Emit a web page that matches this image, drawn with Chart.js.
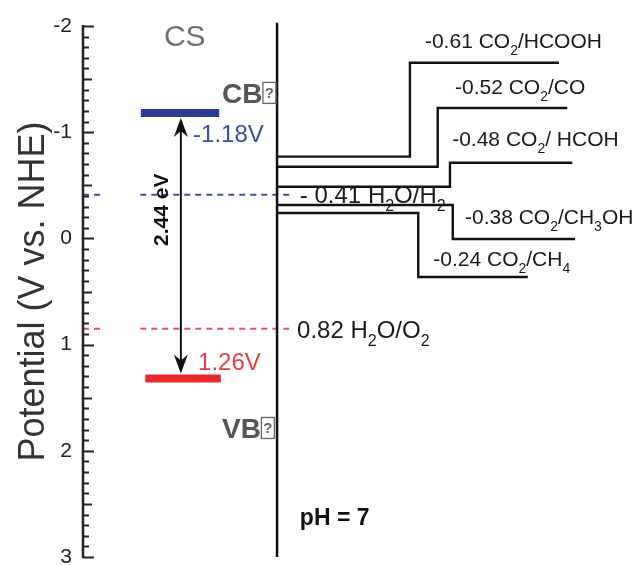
<!DOCTYPE html>
<html>
<head>
<meta charset="utf-8">
<script src="https://cdn.jsdelivr.net/npm/chart.js@4.4.0/dist/chart.umd.min.js"></script>
<style>
  html, body { margin: 0; padding: 0; background: #fff; }
</style>
</head>
<body>
<canvas id="bandChart" width="639" height="565"></canvas>
<script>
// ---- data (potential in V vs. NHE) ----
const potentialRange = [-2, 3];
const bandNames = ['CB', 'VB'];
const bandEdges = [-1.18, 1.32];
const bandLabels = ['-1.18V', '1.26V'];
const gapLabel = '2.44 eV';
const waterLevels = [-0.41, 0.85];
const waterLabels = ['- 0.41 H_2O/H_2', '0.82 H_2O/O_2'];
const coupleLabels = ['-0.61 CO_2/HCOOH', '-0.52 CO_2/CO', '-0.48 CO_2/ HCOH', '-0.38 CO_2/CH_3OH', '-0.24 CO_2/CH_4'];
const coupleStart = [-0.77, -0.675, -0.487, -0.315, -0.239];
const coupleLevel = [-1.654, -1.228, -0.713, 0.006, 0.363];

// ---- horizontal layout (x axis is 0..100, hidden) ----
const FONT = "'Liberation Sans', Arial, sans-serif";
const lay = {
    bandX: [[10.4, 24.5], [11.2, 24.8]],
    arrowX: 17.6,
    dividerX: 34.9,
    dashX: [[0, 3.2], [10.3, 37.6]],
    stepX: [58.8, 63.8, 66.0, 66.5, 60.3],
    endX: [85.6, 87.1, 88.0, 88.5, 80.0],
    coupleTextX: [61.5, 66.9, 66.4, 68.7, 63.0],
    coupleTextY: [-1.86, -1.43, -0.945, -0.204, 0.185],
    waterTextX: [39.0, 38.5],
    waterTextY: [-0.41, 0.86],
    bandTextX: [19.8, 20.7],
    bandTextY: [-0.99, 1.16],
    nameTextX: 25.0,
    nameTextY: [-1.37, 1.785]
};

const bandColors = ['#2b3d94', '#e8292b'];
const waterColors = ['#42528f', '#e2506a'];
const bandTextColors = ['#3d4f99', '#e0404a'];

const datasets = [];

// vertical divider
datasets.push({
    data: [{ x: lay.dividerX, y: -2.03 }, { x: lay.dividerX, y: potentialRange[1] }],
    borderColor: '#111', borderWidth: 2.5
});

// dashed water redox levels
waterLevels.forEach((v, i) => {
    lay.dashX.forEach(seg => {
        datasets.push({
            data: [{ x: seg[0], y: v }, { x: seg[1], y: v }],
            borderColor: waterColors[i], borderWidth: 2, borderDash: [6, 5]
        });
    });
});

// CO2 reduction couples (step lines)
coupleLabels.forEach((lbl, i) => {
    datasets.push({
        data: [
            { x: lay.dividerX, y: coupleStart[i] },
            { x: lay.stepX[i], y: coupleStart[i] },
            { x: lay.stepX[i], y: coupleLevel[i] },
            { x: lay.endX[i], y: coupleLevel[i] }
        ],
        borderColor: '#111', borderWidth: 2.4
    });
});

// band edges
bandEdges.forEach((v, i) => {
    datasets.push({
        data: [{ x: lay.bandX[i][0], y: v }, { x: lay.bandX[i][1], y: v }],
        borderColor: bandColors[i], borderWidth: 8, borderCapStyle: 'butt'
    });
});

/**
 * Draw text with "_x" marking a one-character subscript
 */
function drawRich(ctx, str, x, yMid, size, color, weight) {
    const base = yMid + size * 0.36;
    let cx = x;
    ctx.fillStyle = color;
    ctx.textAlign = 'left';
    ctx.textBaseline = 'alphabetic';
    for (let i = 0; i < str.length; i++) {
        if (str[i] === '_' && i + 1 < str.length) {
            const s = Math.round(size * 0.65);
            ctx.font = `${weight} ${s}px ${FONT}`;
            ctx.fillText(str[i + 1], cx, base + size * 0.33);
            cx += ctx.measureText(str[i + 1]).width;
            i++;
        } else {
            ctx.font = `${weight} ${size}px ${FONT}`;
            ctx.fillText(str[i], cx, base);
            cx += ctx.measureText(str[i]).width;
        }
    }
    return cx;
}

function arrowHead(ctx, x, tip, dir) {
    ctx.beginPath();
    ctx.moveTo(x, tip);
    ctx.lineTo(x - 7, tip + dir * 19);
    ctx.lineTo(x, tip + dir * 13);
    ctx.lineTo(x + 7, tip + dir * 19);
    ctx.closePath();
    ctx.fill();
}

const decorPlugin = {
    id: 'decor',
    afterDatasetsDraw(chart) {
        const ctx = chart.ctx;
        const xs = chart.scales.x;
        const ys = chart.scales.y;
        const px = v => xs.getPixelForValue(v);
        const py = v => ys.getPixelForValue(v);
        ctx.save();

        // axis line with inward ticks
        const ax = chart.chartArea.left;
        ctx.strokeStyle = '#222';
        ctx.lineWidth = 2.5;
        ctx.beginPath();
        ctx.moveTo(ax, py(potentialRange[0]) - 1);
        ctx.lineTo(ax, py(potentialRange[1]) + 1);
        ctx.stroke();
        ctx.lineWidth = 2;
        for (let i = potentialRange[0] * 10; i <= potentialRange[1] * 10; i++) {
            const len = i % 10 === 0 ? 11 : (i % 5 === 0 ? 9 : 6);
            const y = Math.round(py(i / 10)) + 0.5;
            ctx.beginPath();
            ctx.moveTo(ax, y);
            ctx.lineTo(ax + len, y);
            ctx.stroke();
        }

        // band gap arrow
        const xa = px(lay.arrowX);
        const yTop = py(bandEdges[0]) + 5;
        const yBot = py(bandEdges[1]) - 5;
        ctx.strokeStyle = '#111';
        ctx.fillStyle = '#111';
        ctx.lineWidth = 2;
        ctx.beginPath();
        ctx.moveTo(xa, yTop + 8);
        ctx.lineTo(xa, yBot - 8);
        ctx.stroke();
        arrowHead(ctx, xa, yTop, 1);
        arrowHead(ctx, xa, yBot, -1);

        // gap label, rotated
        ctx.save();
        ctx.translate(px(lay.arrowX) - 19, py(-0.27));
        ctx.rotate(-Math.PI / 2);
        ctx.font = `bold 21px ${FONT}`;
        ctx.fillStyle = '#111';
        ctx.textAlign = 'center';
        ctx.textBaseline = 'middle';
        ctx.fillText(gapLabel, 0, 0);
        ctx.restore();

        // CS title
        ctx.font = `30px ${FONT}`;
        ctx.fillStyle = '#6e6e6e';
        ctx.textAlign = 'center';
        ctx.textBaseline = 'middle';
        ctx.fillText('CS', px(18.3), py(-1.89));

        // CB / VB labels with a missing-glyph box
        bandNames.forEach((name, i) => {
            const end = drawRich(ctx, name, px(lay.nameTextX), py(lay.nameTextY[i]), 28, '#555', 'bold');
            const yc = py(lay.nameTextY[i]);
            ctx.strokeStyle = '#666';
            ctx.lineWidth = 1.3;
            ctx.strokeRect(end + 0.5, yc - 10.5, 13, 21);
            ctx.font = `bold 15px ${FONT}`;
            ctx.fillStyle = '#666';
            ctx.textAlign = 'center';
            ctx.textBaseline = 'middle';
            ctx.fillText('?', end + 7, yc + 1);
        });

        // band edge values
        bandLabels.forEach((lbl, i) => {
            drawRich(ctx, lbl, px(lay.bandTextX[i]), py(lay.bandTextY[i]), 24, bandTextColors[i], 'normal');
        });

        // water redox labels
        waterLabels.forEach((lbl, i) => {
            drawRich(ctx, lbl, px(lay.waterTextX[i]), py(lay.waterTextY[i]), 24, '#1a1a1a', 'normal');
        });

        // CO2 couple labels
        coupleLabels.forEach((lbl, i) => {
            drawRich(ctx, lbl, px(lay.coupleTextX[i]), py(lay.coupleTextY[i]), 21, '#1a1a1a', 'normal');
        });

        // pH note
        drawRich(ctx, 'pH = 7', px(39.0), py(2.62), 23, '#111', 'bold');

        ctx.restore();
    }
};

new Chart(document.getElementById('bandChart'), {
    type: 'scatter',
    data: { datasets: datasets.map(d => Object.assign({ showLine: true, pointRadius: 0, clip: false, fill: false }, d)) },
    options: {
        responsive: false,
        animation: false,
        devicePixelRatio: 1,
        layout: { padding: { top: 26, bottom: 8, left: 0, right: 0 } },
        plugins: {
            legend: { display: false },
            tooltip: { enabled: false }
        },
        scales: {
            x: { type: 'linear', min: 0, max: 100, display: false },
            y: {
                type: 'linear',
                min: potentialRange[0],
                max: potentialRange[1],
                reverse: true,
                afterFit: function(s) {
                    s.width = 83;
                    s.paddingTop = 0;
                    s.paddingBottom = 0;
                },
                border: { display: false },
                grid: { display: false, drawTicks: false },
                ticks: {
                    stepSize: 1,
                    padding: 11,
                    color: '#222',
                    font: { size: 21, family: FONT }
                },
                title: {
                    display: true,
                    text: 'Potential (V vs. NHE)',
                    color: '#333',
                    font: { size: 36, family: FONT },
                    padding: { top: 12, bottom: 0 }
                }
            }
        }
    },
    plugins: [decorPlugin]
});
</script>
</body>
</html>
